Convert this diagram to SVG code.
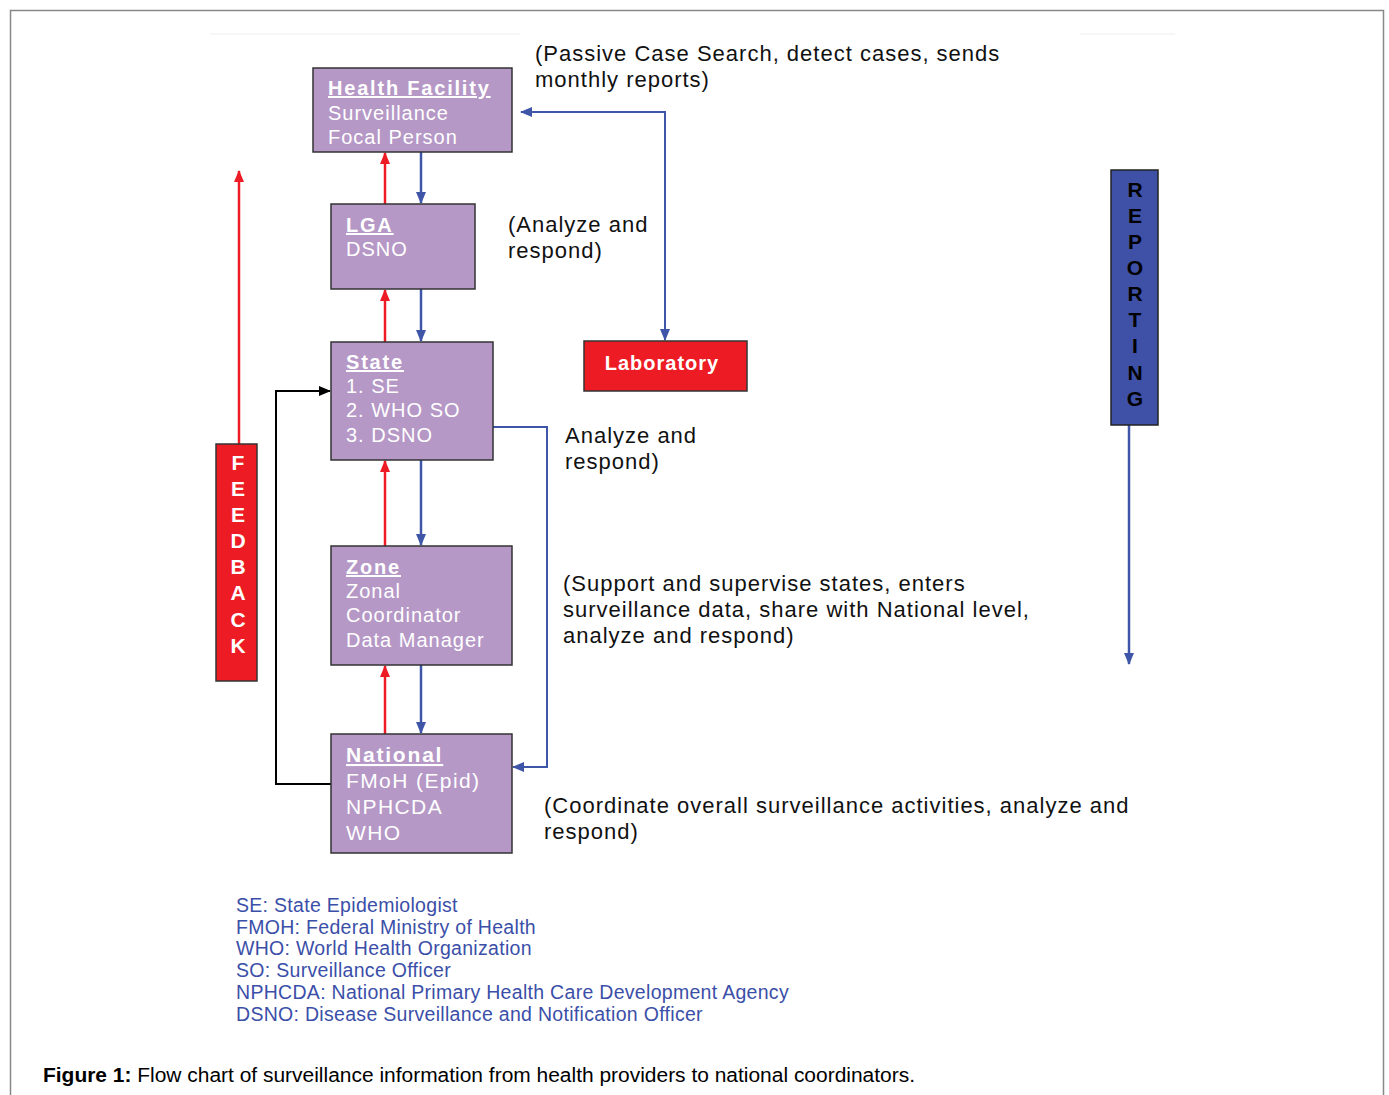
<svg xmlns="http://www.w3.org/2000/svg" width="1389" height="1095" viewBox="0 0 1389 1095">
<defs>
<marker id="ar" markerUnits="userSpaceOnUse" markerWidth="12" markerHeight="12" viewBox="0 0 12 12" refX="11" refY="6" orient="auto"><path d="M0,1 L12,6 L0,11 Z" fill="#ed1c24"/></marker>
<marker id="ab" markerUnits="userSpaceOnUse" markerWidth="12" markerHeight="12" viewBox="0 0 12 12" refX="11" refY="6" orient="auto-start-reverse"><path d="M0,1 L12,6 L0,11 Z" fill="#3f56a8"/></marker>
<marker id="ak" markerUnits="userSpaceOnUse" markerWidth="12" markerHeight="12" viewBox="0 0 12 12" refX="11" refY="6" orient="auto"><path d="M0,1 L12,6 L0,11 Z" fill="#000"/></marker>
<style>
.box{fill:#b598c6;stroke:#333;stroke-width:1.5}
.bt{font-family:"Liberation Sans",Arial,sans-serif;font-size:20px;fill:#fff;letter-spacing:1px}
.bh{font-weight:bold;text-decoration:underline;letter-spacing:1.8px}
.note{font-family:"Liberation Sans",Arial,sans-serif;font-size:22px;fill:#111;letter-spacing:1px}
.leg{font-family:"Liberation Sans",Arial,sans-serif;font-size:19.5px;fill:#3b4fa8;letter-spacing:0.3px}
.vl{font-family:"Liberation Sans",Arial,sans-serif;font-size:21px;font-weight:bold;text-anchor:middle}
.red{stroke:#ed1c24;stroke-width:2.5;fill:none}
.blue{stroke:#3f56a8;stroke-width:2.5;fill:none}
.blk{stroke:#000;stroke-width:2;fill:none}
</style>
</defs>
<rect x="0" y="0" width="1389" height="1095" fill="#fff"/>
<path d="M10.5,1095 V10.5 H1383.5 V1095" fill="none" stroke="#888" stroke-width="1.5"/>
<line x1="210" y1="34" x2="520" y2="34" stroke="#eee" stroke-width="1"/>
<line x1="1080" y1="34" x2="1175" y2="34" stroke="#eee" stroke-width="1"/>

<g id="connectors">
<line class="red" x1="385" y1="204" x2="385" y2="153" marker-end="url(#ar)"/>
<line class="blue" x1="421" y1="152" x2="421" y2="203" marker-end="url(#ab)"/>
<line class="red" x1="385" y1="342" x2="385" y2="290" marker-end="url(#ar)"/>
<line class="blue" x1="421" y1="289" x2="421" y2="341" marker-end="url(#ab)"/>
<line class="red" x1="385" y1="546" x2="385" y2="461" marker-end="url(#ar)"/>
<line class="blue" x1="421" y1="460" x2="421" y2="545" marker-end="url(#ab)"/>
<line class="red" x1="385" y1="734" x2="385" y2="666" marker-end="url(#ar)"/>
<line class="blue" x1="421" y1="665" x2="421" y2="733" marker-end="url(#ab)"/>
<path class="blue" d="M665,340 V112 H521" marker-start="url(#ab)" marker-end="url(#ab)" style="stroke-width:2"/>
<path class="blue" d="M493,427 H547 V767 H513" marker-end="url(#ab)" style="stroke-width:2"/>
<path class="blk" d="M331,784 H276 V391 H330" marker-end="url(#ak)"/>
<line class="red" x1="239" y1="444" x2="239" y2="171" marker-end="url(#ar)"/>
<line class="blue" x1="1129" y1="425" x2="1129" y2="664" marker-end="url(#ab)"/>
</g>

<g id="health-facility">
<rect class="box" x="313" y="68" width="199" height="84"/>
<text class="bt" x="328" y="95"><tspan class="bh">Health Facility</tspan><tspan x="328" y="120">Surveillance</tspan><tspan x="328" y="144">Focal Person</tspan></text>
</g>
<g id="lga">
<rect class="box" x="331" y="204" width="144" height="85"/>
<text class="bt" x="346" y="232"><tspan class="bh">LGA</tspan><tspan x="346" y="256">DSNO</tspan></text>
</g>
<g id="state">
<rect class="box" x="331" y="342" width="162" height="118"/>
<text class="bt" x="346" y="369"><tspan class="bh">State</tspan><tspan x="346" y="393">1. SE</tspan><tspan x="346" y="417">2. WHO SO</tspan><tspan x="346" y="442">3. DSNO</tspan></text>
</g>
<g id="zone">
<rect class="box" x="331" y="546" width="181" height="119"/>
<text class="bt" x="346" y="574"><tspan class="bh">Zone</tspan><tspan x="346" y="598">Zonal</tspan><tspan x="346" y="622">Coordinator</tspan><tspan x="346" y="647">Data Manager</tspan></text>
</g>
<g id="national">
<rect class="box" x="331" y="734" width="181" height="119"/>
<text class="bt" x="346" y="762" style="font-size:21px;letter-spacing:1.4px"><tspan class="bh">National</tspan><tspan x="346" y="788">FMoH (Epid)</tspan><tspan x="346" y="814">NPHCDA</tspan><tspan x="346" y="840">WHO</tspan></text>
</g>
<g id="laboratory">
<rect x="584" y="341" width="163" height="50" fill="#ed1c24" stroke="#333" stroke-width="1.5"/>
<text class="bt" x="662" y="370" text-anchor="middle" style="font-weight:bold">Laboratory</text>
</g>
<g id="feedback">
<rect x="216" y="444" width="41" height="237" fill="#ed1c24" stroke="#333" stroke-width="1.5"/>
<text class="vl" fill="#fff"><tspan x="238" y="470">F</tspan><tspan x="238" y="496">E</tspan><tspan x="238" y="522">E</tspan><tspan x="238" y="548">D</tspan><tspan x="238" y="574">B</tspan><tspan x="238" y="600">A</tspan><tspan x="238" y="627">C</tspan><tspan x="238" y="653">K</tspan></text>
</g>
<g id="reporting">
<rect x="1111" y="170" width="47" height="255" fill="#3f51a6" stroke="#222" stroke-width="1.5"/>
<text class="vl" fill="#000"><tspan x="1135" y="197">R</tspan><tspan x="1135" y="223">E</tspan><tspan x="1135" y="249">P</tspan><tspan x="1135" y="275">O</tspan><tspan x="1135" y="301">R</tspan><tspan x="1135" y="327">T</tspan><tspan x="1135" y="353">I</tspan><tspan x="1135" y="380">N</tspan><tspan x="1135" y="406">G</tspan></text>
</g>

<g id="notes">
<text class="note" x="535" y="61">(Passive Case Search, detect cases, sends<tspan x="535" y="87">monthly reports)</tspan></text>
<text class="note" x="508" y="232">(Analyze and<tspan x="508" y="258">respond)</tspan></text>
<text class="note" x="565" y="443">Analyze and<tspan x="565" y="469">respond)</tspan></text>
<text class="note" x="563" y="591">(Support and supervise states, enters<tspan x="563" y="617">surveillance data, share with National level,</tspan><tspan x="563" y="643">analyze and respond)</tspan></text>
<text class="note" x="544" y="813">(Coordinate overall surveillance activities, analyze and<tspan x="544" y="839">respond)</tspan></text>
</g>

<g id="legend">
<text class="leg" x="236" y="912">SE: State Epidemiologist</text>
<text class="leg" x="236" y="934">FMOH: Federal Ministry of Health</text>
<text class="leg" x="236" y="955">WHO: World Health Organization</text>
<text class="leg" x="236" y="977">SO: Surveillance Officer</text>
<text class="leg" x="236" y="999">NPHCDA: National Primary Health Care Development Agency</text>
<text class="leg" x="236" y="1021">DSNO: Disease Surveillance and Notification Officer</text>
</g>

<text x="43" y="1082" font-family="'Liberation Sans',Arial,sans-serif" font-size="19.5" fill="#000" textLength="872" lengthAdjust="spacingAndGlyphs"><tspan font-weight="bold">Figure 1:</tspan> Flow chart of surveillance information from health providers to national coordinators.</text>
</svg>
